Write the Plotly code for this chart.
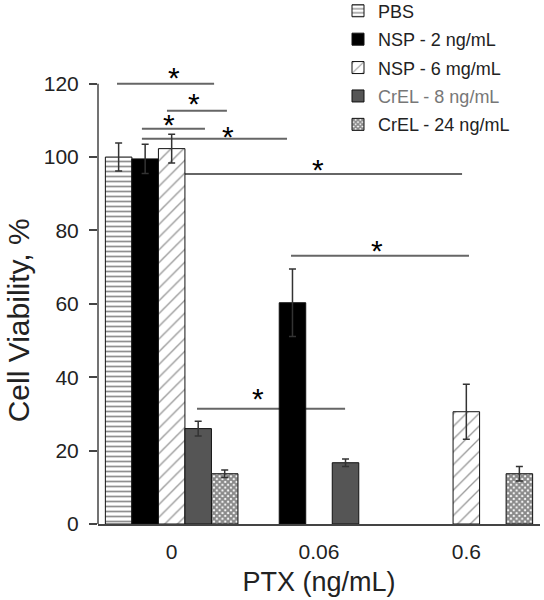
import plotly.graph_objects as go

# ---- data ----
doses = ["0", "0.06", "0.6"]
series_names = ["PBS", "NSP - 2 ng/mL", "NSP - 6 mg/mL", "CrEL - 8 ng/mL", "CrEL - 24 ng/mL"]
pbs = [100.0, None, None]
pbs_err = [3.8, 0, 0]
nsp2 = [99.5, 60.3, None]
nsp2_err = [4.0, 9.2, 0]
nsp6 = [102.3, None, 30.6]
nsp6_err = [3.9, 0, 7.5]
crel8 = [26.0, 16.7, None]
crel8_err = [2.0, 1.0, 0]
crel24 = [13.7, None, 13.7]
crel24_err = [1.0, 0, 2.0]
y_title = "Cell Viability, %"
x_title = "PTX (ng/mL)"

# significance brackets: (x0, x1, y) in axis units
sig_lines = [
    (-0.371, 0.288, 120.0),
    (-0.032, 0.375, 112.6),
    (-0.202, 0.226, 107.7),
    (-0.202, 0.783, 105.0),
    (0.090, 1.971, 95.4),
    (0.810, 2.018, 73.1),
    (0.172, 1.177, 31.4),
]
sig_stars = [
    (0.016, 123.0),
    (0.151, 115.9),
    (-0.018, 110.2),
    (0.383, 106.9),
    (0.994, 97.9),
    (1.394, 75.8),
    (0.586, 35.5),
]

FONT = "Liberation Sans, Arial, sans-serif"

styles = [
    dict(color="white", pattern=dict(shape="-", size=5, solidity=0.35, fgcolor="#222", bgcolor="white")),
    dict(color="black"),
    dict(color="white", pattern=dict(shape="/", size=9, solidity=0.15, fgcolor="#333", bgcolor="white")),
    dict(color="#555555"),
    dict(color="white", pattern=dict(shape="x", size=4, solidity=0.75, fgcolor="#111", bgcolor="white")),
]
values = [pbs, nsp2, nsp6, crel8, crel24]
errs = [pbs_err, nsp2_err, nsp6_err, crel8_err, crel24_err]
legend_names = list(series_names)
legend_names[3] = "<span style='color:#777777'>" + series_names[3] + "</span>"

fig = go.Figure()
for i, (name, vals, err, st) in enumerate(zip(legend_names, values, errs, styles)):
    marker = dict(line=dict(color="#111", width=1), **st)
    fig.add_trace(go.Bar(
        x=doses, y=vals, name=name, marker=marker, legendgroup="g%d" % i,
        error_y=dict(type="data", array=err, color="#333", thickness=1.5, width=3.5),
    ))

for x0, x1, y in sig_lines:
    fig.add_shape(type="line", xref="x", yref="y", x0=x0, x1=x1, y0=y, y1=y,
                  line=dict(color="#666", width=2), layer="below")
for x, y in sig_stars:
    fig.add_annotation(x=x, y=y, xref="x", yref="y", text="*", showarrow=False,
                       font=dict(family=FONT, size=30, color="black"), yanchor="middle", yshift=-5)

# y axis line drawn only up to 120
fig.add_shape(type="line", xref="paper", yref="y", x0=0, x1=0, y0=0, y1=120,
              line=dict(color="#444", width=1.5))

# y-axis title as rotated text
fig.add_annotation(x=-0.178, y=55.6, xref="paper", yref="y", text=y_title, showarrow=False,
                   textangle=-90, xanchor="center", yanchor="middle", borderpad=0,
                   font=dict(family=FONT, size=30, color="#222"))

fig.update_layout(
    width=544, height=600,
    margin=dict(l=98, r=4, t=69, b=76, autoexpand=False),
    paper_bgcolor="white", plot_bgcolor="white",
    barmode="group", bargap=0.1, bargroupgap=0,
    font=dict(family=FONT, color="#222"),
    showlegend=True,
    legend=dict(x=0.543, y=1.168, xanchor="left", yanchor="top", bgcolor="rgba(0,0,0,0)",
                font=dict(family=FONT, size=18, color="#222"), tracegroupgap=2),
    xaxis=dict(range=[-0.5, 2.5], showline=True, linecolor="#444", linewidth=1.5,
               ticks="", showgrid=False, zeroline=False, automargin=False, ticklabelstandoff=8,
               tickfont=dict(family=FONT, size=21, color="#222"),
               title=dict(text=x_title, font=dict(family=FONT, size=27, color="#222"), standoff=10)),
    yaxis=dict(range=[0, 124], tickvals=[0, 20, 40, 60, 80, 100, 120], showline=False,
               ticks="outside", ticklen=8, tickcolor="#444", tickwidth=1.5,
               showgrid=False, zeroline=False, automargin=False, ticklabelstandoff=6,
               tickfont=dict(family=FONT, size=21, color="#222")),
)

fig.write_html("out.html", config={"displayModeBar": False},
               post_script="document.body.style.margin='0';")
